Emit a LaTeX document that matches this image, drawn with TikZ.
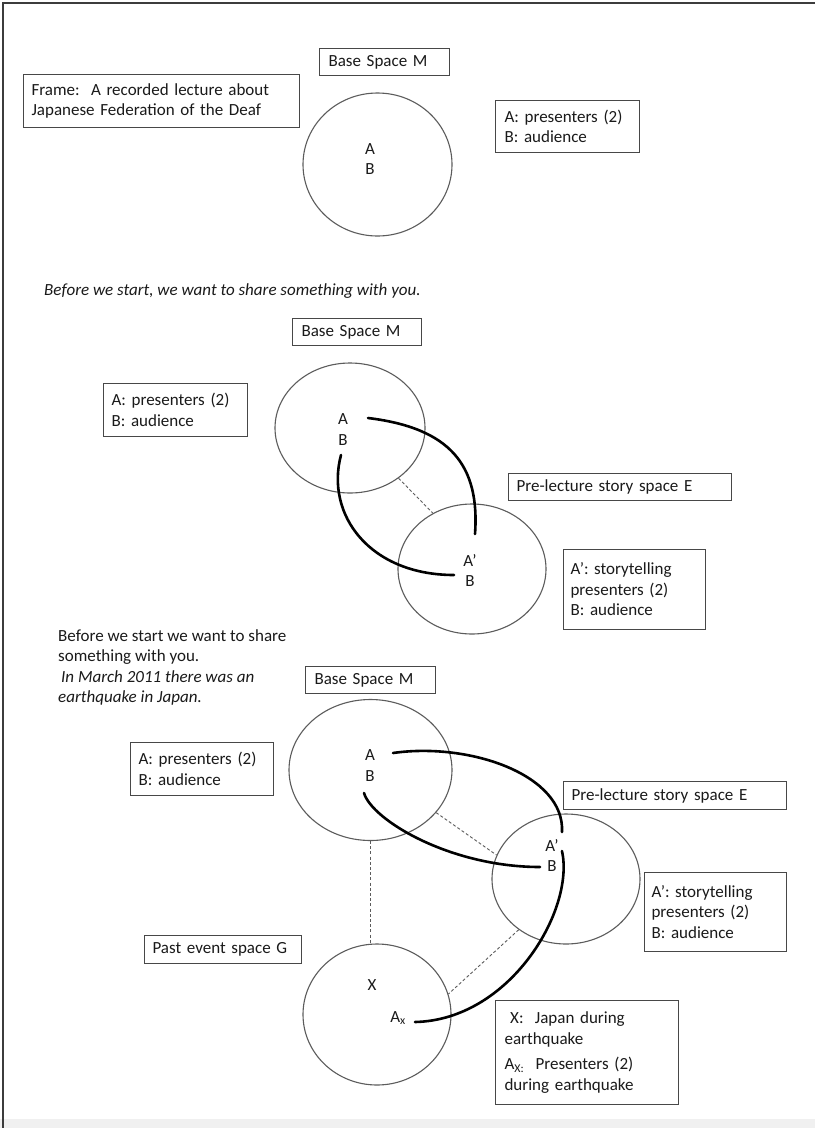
\documentclass[tikz,border=0pt]{standalone}
\usepackage{fontspec}
\setmainfont{Carlito}
\usetikzlibrary{shapes.geometric}
\definecolor{ink}{HTML}{1A1A1A}
\definecolor{boxline}{HTML}{484848}
\definecolor{ringline}{HTML}{5C5C5C}
\definecolor{pageedge}{HTML}{3C3C3C}
\begin{document}
\begin{tikzpicture}[x=1pt,y=-1pt,
  every node/.style={font=\fontsize{17}{20.5}\selectfont, text=ink},
  labelbox/.style={draw=boxline, line width=1.1pt, anchor=north west, align=left, inner ysep=0pt},
  space/.style={ellipse, draw=ringline, line width=1.1pt, inner sep=0pt},
  letter/.style={inner sep=0pt},
  link/.style={line width=2.6pt, line cap=round, draw=black},
  tie/.style={draw=ringline, line width=0.9pt, dash pattern=on 3pt off 2.2pt}]

% page
\fill[white] (0,0) rectangle (815,1128);
\useasboundingbox (0,0) rectangle (815,1128);
\fill[gray!12] (0,1119) rectangle (815,1128);
\draw[pageedge, line width=1.4pt] (3,1128) -- (3,3) -- (815,3);

% ---------- panel 1 ----------
\node[labelbox, minimum width=130pt, minimum height=27pt, inner xsep=9pt, text width=112pt] (base1) at (319,48) {Base Space M};
\node[labelbox, minimum width=276pt, minimum height=53pt, inner xsep=8pt, text width=260pt] (frame) at (23,74)
  {Frame:\ \ A recorded lecture about\\Japanese Federation of the Deaf};
\node[labelbox, minimum width=144pt, minimum height=52pt, inner xsep=9pt, text width=126pt] (roles1) at (495,100)
  {A: presenters (2)\\B: audience};
\node[space, minimum width=149pt, minimum height=143pt] (M1) at (377.5,164.5) {};
\node[letter] (a1) at (370,149) {A};
\node[letter] (b1) at (370,169) {B};

% ---------- panel 2 ----------
\node[letter, anchor=west] (say2) at (44,291) {\itshape Before we start, we want to share something with you.};
\node[labelbox, minimum width=129pt, minimum height=27pt, inner xsep=9pt, text width=111pt] (base2) at (292,318) {Base Space M};
\node[labelbox, minimum width=144pt, minimum height=53pt, inner xsep=8pt, text width=128pt] (roles2) at (103,383)
  {A: presenters (2)\\B: audience};
\node[labelbox, minimum width=223pt, minimum height=27pt, inner xsep=8pt, text width=207pt] (pre2) at (508,473)
  {Pre-lecture story space E};
\node[labelbox, minimum width=142pt, minimum height=80pt, inner xsep=7pt, text width=128pt] (story2) at (563,549)
  {A’: storytelling\\presenters (2)\\B: audience};
\node[space, minimum width=150pt, minimum height=130pt] (M2) at (350,428) {};
\node[space, minimum width=148pt, minimum height=130pt] (E2) at (472,569) {};
\node[letter] (a2) at (343,419) {A};
\node[letter] (b2) at (343,440) {B};
\node[letter] (ap2) at (470,560) {A’};
\node[letter] (bp2) at (470,581) {B};
\draw[tie] (M2.-46) -- (E2.125);
\coordinate (p2a) at (368,418);
\coordinate (q2a) at (475,534);
\coordinate (p2b) at (341,455);
\coordinate (q2b) at (454,575);
\draw[link] (p2a) .. controls (450,428) and (480,465) .. (q2a);
\draw[link] (p2b) .. controls (325,515) and (370,575) .. (q2b);

% ---------- panel 3 ----------
\node[letter, anchor=north west, align=left] (say3) at (58,629)
  {Before we start we want to share\\something with you.\\\hspace{3pt}\itshape In March 2011 there was an\\\itshape earthquake in Japan.};
\node[labelbox, minimum width=130pt, minimum height=27pt, inner xsep=9pt, text width=112pt] (base3) at (305,666) {Base Space M};
\node[labelbox, minimum width=143pt, minimum height=53pt, inner xsep=8pt, text width=127pt] (roles3) at (130,742)
  {A: presenters (2)\\B: audience};
\node[labelbox, minimum width=223pt, minimum height=28pt, inner xsep=8pt, text width=207pt] (pre3) at (563,781)
  {Pre-lecture story space E};
\node[labelbox, minimum width=142pt, minimum height=79pt, inner xsep=7pt, text width=128pt] (story3) at (644,872)
  {A’: storytelling\\presenters (2)\\B: audience};
\node[labelbox, minimum width=157pt, minimum height=28pt, inner xsep=8pt, text width=141pt] (past3) at (144,935)
  {Past event space G};
\node[labelbox, minimum width=183pt, minimum height=104pt, inner xsep=9pt, text width=165pt] (xkey) at (495,1000)
  {\ X:\ \ Japan during\\earthquake\\[5pt]A\textsubscript{X:}\ \ Presenters (2)\\during earthquake};
\node[space, minimum width=163pt, minimum height=141pt] (M3) at (370.5,770) {};
\node[space, minimum width=148pt, minimum height=130pt] (E3) at (566,879) {};
\node[space, minimum width=148pt, minimum height=141pt] (G3) at (377,1014.5) {};
\node[letter] (a3) at (370,755) {A};
\node[letter] (b3) at (370,776) {B};
\node[letter] (ap3) at (552,845) {A’};
\node[letter] (bp3) at (552,866) {B};
\node[letter] (x3) at (372,985) {X};
\node[letter] (ax3) at (398,1018) {A\textsubscript{x}};
\draw[tie] (M3.-33) -- (E3.161);
\draw[tie] (M3.south) -- (M3.south |- G3.north);
\draw[tie] (E3.227) -- (G3.16);
\coordinate (p3a) at (393,753);
\coordinate (q3a) at (562,832);
\coordinate (p3b) at (364,793);
\coordinate (q3b) at (540,867);
\coordinate (p3c) at (562,851);
\coordinate (q3c) at (415,1022);
\draw[link] (p3a) .. controls (470,742) and (565,775) .. (q3a);
\draw[link] (p3b) .. controls (372,820) and (450,867) .. (q3b);
\draw[link] (p3c) .. controls (575,910) and (510,1020) .. (q3c);
\end{tikzpicture}
\end{document}
